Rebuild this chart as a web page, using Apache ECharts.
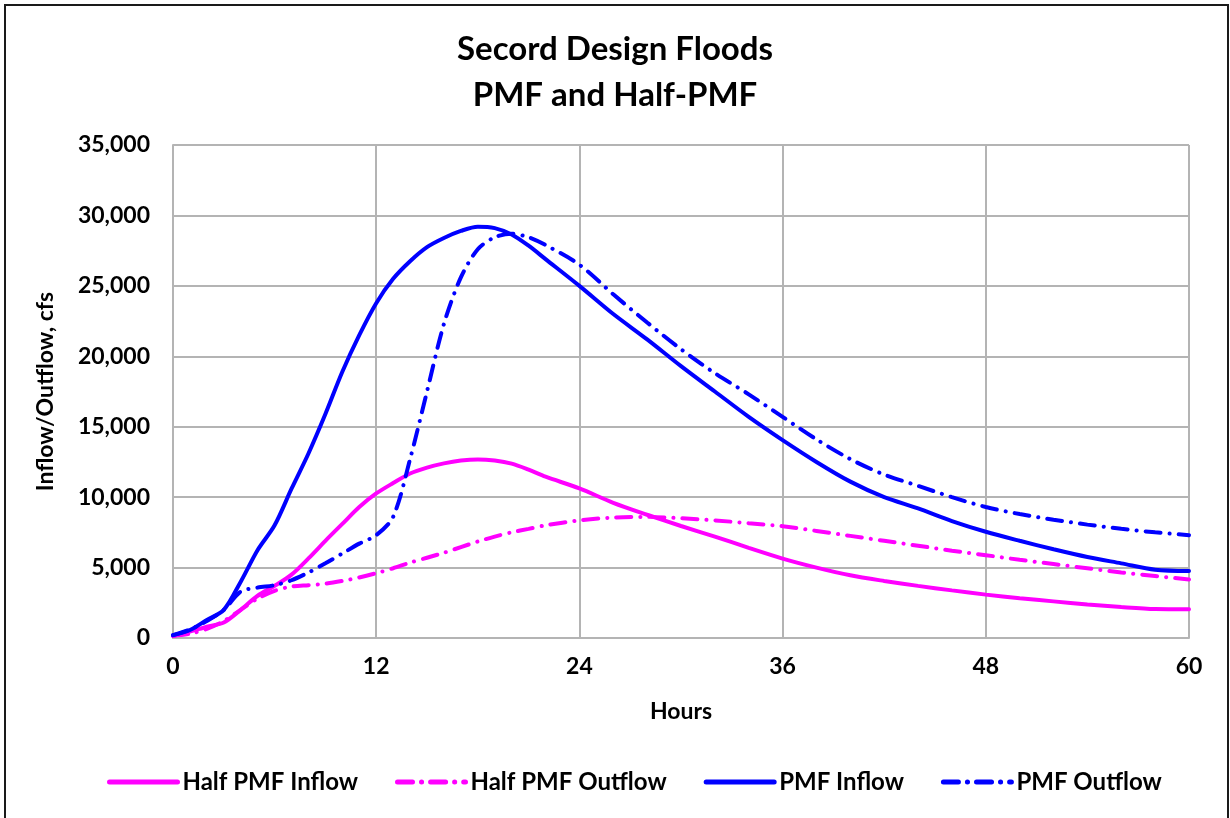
<!DOCTYPE html>
<html>
<head>
<meta charset="utf-8">
<title>Secord Design Floods</title>
<script src="https://cdn.jsdelivr.net/npm/echarts@6/dist/echarts.min.js"></script>
<style>
  html, body { margin: 0; padding: 0; background: #ffffff; }
  #chart { width: 1230px; height: 818px; }
</style>
</head>
<body>
<div id="chart"></div>
<script>
// Hydrograph time steps (hours)
const hours = [0, 1, 2, 3, 4, 5, 6, 7, 8, 9, 10, 11, 12, 13, 14, 15, 16, 17, 18, 19, 20, 21, 22,
  24, 26, 28, 30, 32, 34, 36, 38, 40, 42, 44, 46, 48, 50, 52, 54, 56, 58, 60];

// Flows in cfs at each time step
const halfPmfInflow = [150, 450, 800, 1100, 2000, 3000, 3700, 4500, 5650, 6900, 8100, 9300, 10260,
  11000, 11680, 12100, 12400, 12600, 12680, 12600, 12380, 11950, 11450,
  10620, 9600, 8750, 7950, 7200, 6400, 5640, 5000, 4450, 4050, 3700, 3380, 3080, 2820, 2600, 2380, 2200, 2060, 2040];

const halfPmfOutflow = [150, 300, 650, 1200, 2000, 2800, 3350, 3650, 3750, 3850, 4050, 4300, 4600,
  4950, 5350, 5700, 6050, 6450, 6850, 7200, 7500, 7750, 8000,
  8350, 8550, 8600, 8500, 8350, 8150, 7940, 7600, 7250, 6900, 6550, 6200, 5880, 5550, 5250, 4950, 4650, 4400, 4150];

const pmfInflow = [200, 570, 1280, 2000, 4000, 6250, 8000, 10600, 13100, 15900, 18900, 21500, 23770,
  25500, 26750, 27750, 28400, 28900, 29200, 29100, 28650, 27850, 26900,
  25000, 23000, 21200, 19300, 17500, 15700, 14050, 12500, 11100, 10000, 9200, 8300, 7540, 6900, 6300, 5750, 5300, 4850, 4760];

const pmfOutflow = [200, 600, 1200, 2000, 3300, 3580, 3750, 4100, 4650, 5300, 6000, 6700, 7300,
  8600, 12700, 17500, 22300, 25600, 27600, 28450, 28700, 28450, 27900,
  26500, 24400, 22400, 20500, 18800, 17300, 15700, 14100, 12700, 11600, 10800, 10000, 9300, 8800, 8400, 8050, 7750, 7500, 7300];

// Axis ticks
const xTicks = { min: 0, max: 60, step: 12 };
const yTicks = { min: 0, max: 35000, step: 5000 };

const FONT = 'Lato, "Open Sans", sans-serif';
const MAGENTA = '#FF00FF';
const BLUE = '#0000FF';
const DASH_DOT = [15, 9, 0.1, 9];

function pairs(values) {
  return hours.map((h, i) => [h, values[i]]);
}

function lineSeries(name, values, color, dashed) {
  return {
    name: name,
    type: 'line',
    data: pairs(values),
    smooth: 0.3,
    showSymbol: false,
    symbol: 'none',
    color: color,
    lineStyle: {
      color: color,
      width: 4,
      type: dashed ? DASH_DOT : 'solid',
      cap: 'round'
    },
    emphasis: { disabled: true }
  };
}

const chart = echarts.init(document.getElementById('chart'), null, { renderer: 'canvas' });

const bold = (size) => ({ fontFamily: FONT, fontSize: size, fontWeight: 'bold', color: '#000000' });

chart.setOption({
  animation: false,
  backgroundColor: '#ffffff',
  textStyle: { fontFamily: FONT },
  title: {
    text: 'Secord Design Floods\nPMF and Half-PMF',
    left: 'center',
    top: 21,
    textStyle: Object.assign(bold(33), { lineHeight: 46 })
  },
  graphic: [{
    type: 'rect',
    shape: { x: 5, y: 5, width: 1223, height: 840 },
    style: { fill: null, stroke: '#1a1a1a', lineWidth: 2 },
    silent: true
  }],
  grid: {
    left: 173,
    right: 41,
    top: 145,
    bottom: 180,
    containLabel: false
  },
  legend: {
    top: 765,
    left: 102,
    itemWidth: 68,
    itemHeight: 14,
    itemGap: 37,
    itemStyle: { opacity: 0 },
    lineStyle: { width: 5 },
    textStyle: Object.assign(bold(24), { padding: [0, 0, 0, 0] }),
    data: ['Half PMF Inflow', 'Half PMF Outflow', 'PMF Inflow', 'PMF Outflow']
  },
  xAxis: {
    type: 'value',
    min: xTicks.min,
    max: xTicks.max,
    interval: xTicks.step,
    name: 'Hours',
    nameLocation: 'middle',
    nameGap: 62,
    nameTextStyle: bold(23),
    axisLine: { show: true, lineStyle: { color: '#b4b4b4', width: 2 } },
    axisTick: { show: false },
    axisLabel: Object.assign(bold(23), { margin: 17 }),
    splitLine: { show: true, lineStyle: { color: '#b4b4b4', width: 2 } }
  },
  yAxis: {
    type: 'value',
    min: yTicks.min,
    max: yTicks.max,
    interval: yTicks.step,
    name: 'Inflow/Outflow, cfs',
    nameLocation: 'middle',
    nameGap: 116,
    nameRotate: 90,
    nameTextStyle: bold(23),
    axisLine: { show: true, lineStyle: { color: '#b4b4b4', width: 2 } },
    axisTick: { show: false },
    axisLabel: Object.assign(bold(23), {
      margin: 23,
      formatter: v => v.toLocaleString('en-US')
    }),
    splitLine: { show: true, lineStyle: { color: '#b4b4b4', width: 2 } }
  },
  series: [
    lineSeries('Half PMF Inflow', halfPmfInflow, MAGENTA, false),
    lineSeries('Half PMF Outflow', halfPmfOutflow, MAGENTA, true),
    lineSeries('PMF Inflow', pmfInflow, BLUE, false),
    lineSeries('PMF Outflow', pmfOutflow, BLUE, true)
  ]
});
</script>
</body>
</html>
